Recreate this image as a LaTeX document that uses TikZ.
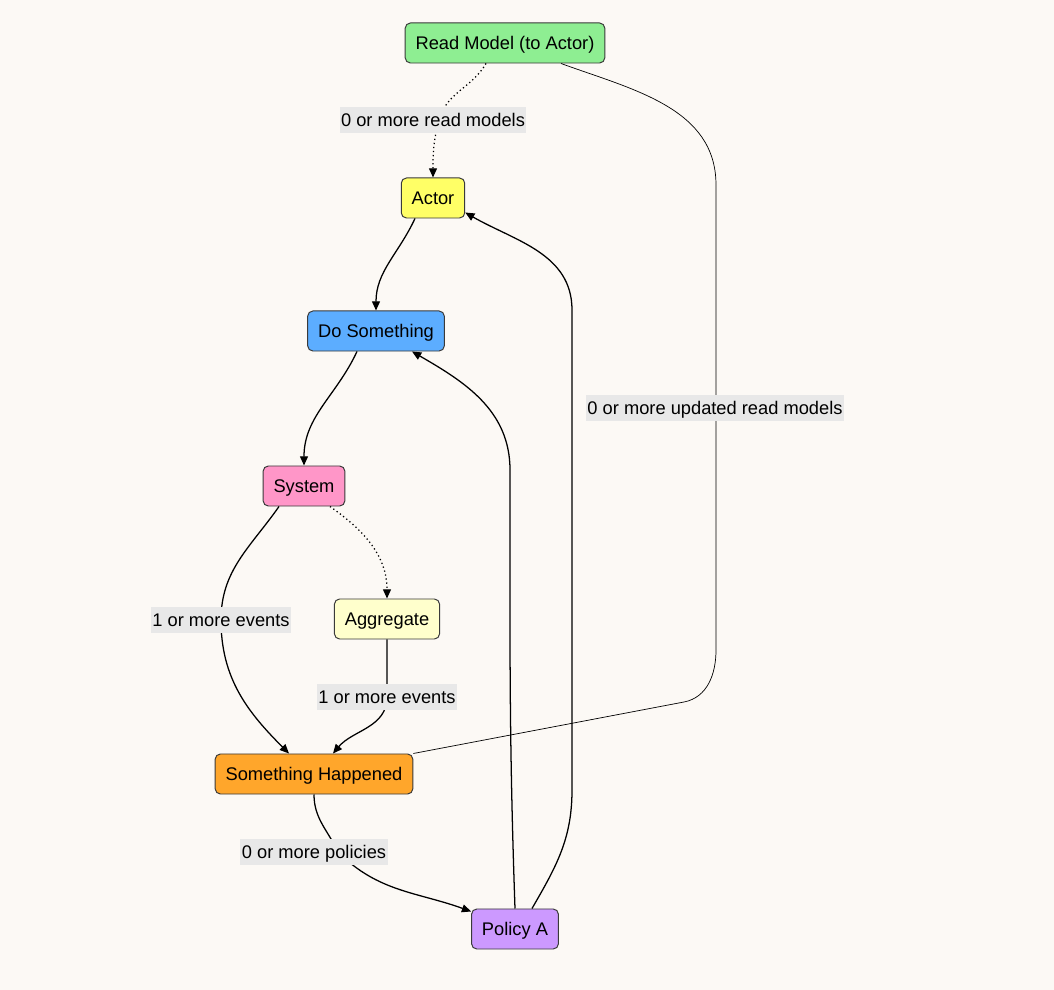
\documentclass[tikz,border=0pt]{standalone}
\usepackage{fontspec}
\setmainfont{Liberation Sans}
\usetikzlibrary{calc,arrows.meta}
\definecolor{paper}{HTML}{FCF9F5}
\definecolor{boxline}{HTML}{3A3A3A}
\definecolor{lblgray}{HTML}{E8E8E8}
\definecolor{rmgreen}{HTML}{8EEE92}
\definecolor{actyellow}{HTML}{FFFF66}
\definecolor{doblue}{HTML}{5CADFF}
\definecolor{syspink}{HTML}{FF96C8}
\definecolor{aggyellow}{HTML}{FFFFCC}
\definecolor{shorange}{HTML}{FFA62B}
\definecolor{polpurple}{HTML}{CC99FF}
\tikzset{
  box/.style={draw=boxline,line width=0.7pt,rounded corners=0.13cm,minimum height=1cm,inner xsep=0.26cm,text height=9.5pt,text depth=0.5pt,font=\fontsize{13}{15}\selectfont},
  lbl/.style={fill=lblgray,inner xsep=1pt,inner ysep=4.5pt,text height=9.5pt,text depth=0.5pt,font=\fontsize{13}{15}\selectfont},
  flow/.style={line width=0.9pt,-{Triangle[length=2.3mm,width=2mm]}}
}
\begin{document}
\begin{tikzpicture}[x=0.025cm,y=-0.025cm]
    \fill[paper] (0,0) rectangle (1054,990);
    % the boxes
    \node[box,fill=rmgreen] (rm) at (505,43) {Read Model (to Actor)};
    \node[box,fill=actyellow] (actor) at (433,198) {Actor};
    \node[box,fill=doblue] (do) at (376,331) {Do Something};
    \node[box,fill=syspink] (sys) at (304,486) {System};
    \node[box,fill=aggyellow] (agg) at (387,619) {Aggregate};
    \node[box,fill=shorange] (sh) at (314,774) {Something Happened};
    \node[box,fill=polpurple] (pol) at (515,929) {Policy A};
    % bends of the long edges
    \coordinate (m1) at (439,120);
    \coordinate (m2) at (221,620);
    \coordinate (m3) at (387,697);
    \coordinate (m4) at (338,852);
    \coordinate (k1) at (510,470);
    \coordinate (k2) at (572,790);
    \coordinate (k3) at (572,310);
    \coordinate (k4) at (716,650);
    \coordinate (k5) at (716,185);
    \coordinate (k6) at (684,702);
    % draw edges
    \draw[flow,dotted] ($(rm.south)+(-19,0)$) to[out=-120,in=75] (m1) to[out=-105,in=90] (actor.north);
    \draw[flow] ($(actor.south)+(-18,0)$) to[out=-115,in=90] (do.north);
    \draw[flow] ($(do.south)+(-19,0)$) to[out=-115,in=90] (sys.north);
    \draw[flow,dotted] ($(sys.south)+(26,0)$) to[out=-35,in=90] (agg.north);
    \draw[flow] ($(sys.south)+(-25,0)$) to[out=-125,in=90] (m2) to[out=-90,in=135] ($(sh.north)+(-25,0)$);
    \draw[flow] (agg.south) -- (m3) to[out=-90,in=50] ($(sh.north)+(19,0)$);
    \draw[flow] (sh.south) to[out=-90,in=115] (m4) to[out=-45,in=160] ($(pol.north west)+(0,3)$);
    \draw[flow] (pol.north) to[out=92,in=-90] (k1) to[out=90,in=-30] ($(do.south)+(36,0)$);
    \draw[flow] ($(pol.north)+(17,0)$) to[out=60,in=-90] (k2) -- (k3) to[out=90,in=-30] ($(actor.south east)+(0,-6)$);
    \draw[line width=0.5pt] (sh.north east) -- (k6) to[out=11,in=-90] (k4) -- (k5) to[out=90,in=-20] ($(rm.south)+(56,0)$);
    % edge labels
    \node[lbl] (l1) at (433,120) {0 or more read models};
    \node[lbl] (l2) at (221,620) {1 or more events};
    \node[lbl] (l3) at (387,697) {1 or more events};
    \node[lbl] (l4) at (314,852) {0 or more policies};
    \node[lbl] (l5) at (715,408) {0 or more updated read models};
\end{tikzpicture}
\end{document}
